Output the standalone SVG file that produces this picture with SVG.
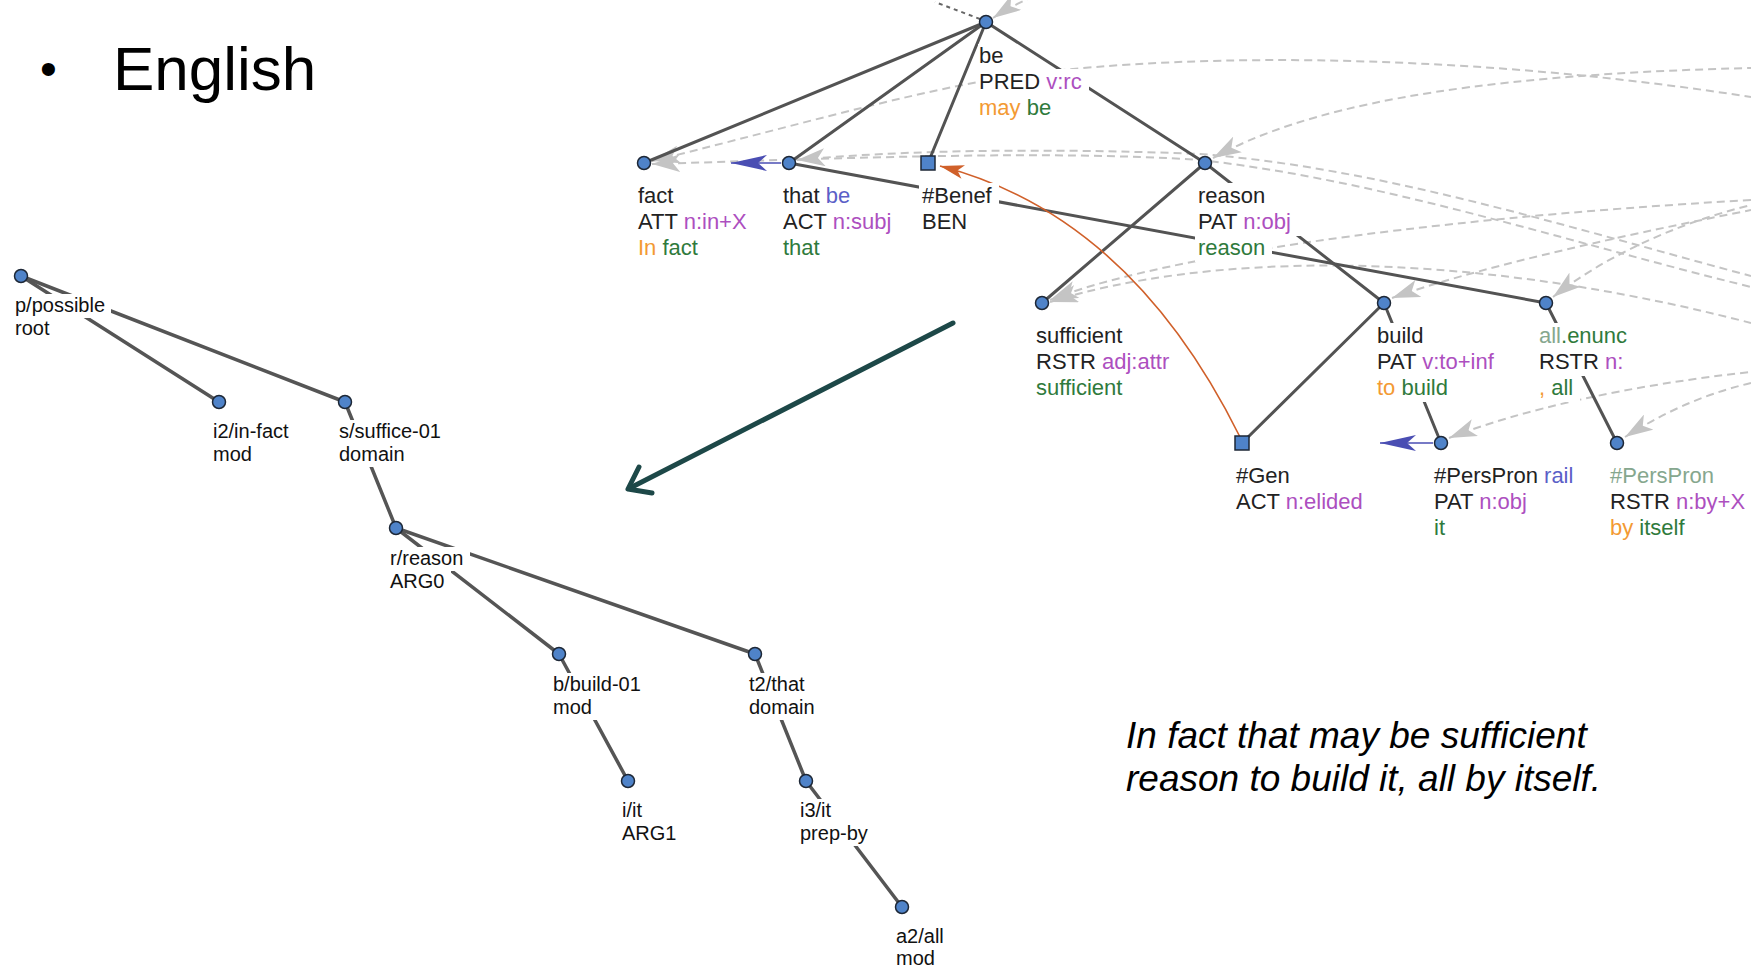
<svg xmlns="http://www.w3.org/2000/svg" width="1751" height="969" viewBox="0 0 1751 969">
  <defs>
    <style>
      .edge { stroke: #535353; stroke-width: 3; fill: none; stroke-linecap: round; }
      .amr-edge { stroke: #555; stroke-width: 3.5; fill: none; stroke-linecap: round; }
      .coref { stroke: #c4c4c4; stroke-width: 2; fill: none; stroke-dasharray: 8 5; marker-start: url(#arr-gray); }
      .node { fill: #4f83c9; stroke: #1d2736; stroke-width: 1.5; }
      .bg { fill: #fff; }
      .lbl { font-family: "Liberation Sans", Arial, Helvetica, sans-serif; font-size: 22px; fill: #222; }
      .amr-lbl { font-family: "Liberation Sans", Arial, Helvetica, sans-serif; font-size: 20px; fill: #111; }
      .pur { fill: #ad4fbf; }
      .grn { fill: #2f7a3c; }
      .org { fill: #f39a33; }
      .blu { fill: #5b5fc7; }
      .mut { fill: #86a78e; }
      .title { font-family: "Liberation Sans", Arial, Helvetica, sans-serif; fill: #000; }
    </style>
    <!-- light gray coreference arrowhead: tip at the node, body along the path -->
    <marker id="arr-gray" markerUnits="userSpaceOnUse" viewBox="0 0 28 18" refX="0" refY="9" markerWidth="28" markerHeight="18" orient="auto">
      <path d="M0,9 L28,0 L21,9 L28,18 Z" fill="#c4c4c4"/>
    </marker>
    <marker id="arr-blue" markerUnits="userSpaceOnUse" viewBox="0 0 36 16" refX="36" refY="8" markerWidth="36" markerHeight="16" orient="auto">
      <path d="M0,0 L36,8 L0,16 L9,8 Z" fill="#4a4eb3"/>
    </marker>
    <marker id="arr-orange" markerUnits="userSpaceOnUse" viewBox="0 0 24 14" refX="24" refY="7" markerWidth="24" markerHeight="14" orient="auto">
      <path d="M0,0 L24,7 L0,14 L6,7 Z" fill="#d0602a"/>
    </marker>
  </defs>

  <rect width="1751" height="969" fill="#fff"/>

  <!-- heading -->
  <text class="title" x="40" y="85" font-size="48">•</text>
  <text class="title" x="113" y="90" font-size="62">English</text>

  <!-- sentence -->
  <text class="title" font-size="37" font-style="italic">
    <tspan x="1126" y="748">In fact that may be sufficient</tspan>
    <tspan x="1126" y="791">reason to build it, all by itself.</tspan>
  </text>

  <!-- ===================== connectors ===================== -->
  <g id="connectors">
    <!-- coreference / alignment curves (gray, dashed) -->
    <path class="coref" d="M652,161 C760,135 900,95 990,80 C1150,52 1450,50 1751,97"/>
    <path class="coref" d="M652,164 C850,158 1050,150 1200,160 C1380,180 1560,240 1751,287"/>
    <path class="coref" d="M797,160 C900,150 1050,148 1200,154 C1380,168 1560,225 1751,276"/>
    <path class="coref" d="M1213,158 C1300,110 1450,75 1751,68"/>
    <path class="coref" d="M1050,300 C1150,260 1400,220 1751,200"/>
    <path class="coref" d="M1050,302 C1200,255 1450,245 1751,323"/>
    <path class="coref" d="M1392,298 C1470,270 1600,240 1751,210"/>
    <path class="coref" d="M1553,297 C1600,260 1670,225 1751,205"/>
    <path class="coref" d="M1449,438 C1520,410 1630,385 1751,372"/>
    <path class="coref" d="M1625,437 C1660,415 1700,395 1751,383"/>
    <path class="coref" d="M993,18 C1005,10 1017,4 1032,-3"/>
    <!-- parent link leaving the top edge -->
    <path d="M980,19 L935,2" stroke="#666" stroke-width="2" stroke-dasharray="4 4" fill="none"/>

    <!-- tectogrammatical tree edges -->
    <line class="edge" x1="986" y1="22" x2="644" y2="163"/>
    <line class="edge" x1="986" y1="22" x2="789" y2="163"/>
    <line class="edge" x1="986" y1="22" x2="928" y2="163"/>
    <line class="edge" x1="986" y1="22" x2="1205" y2="163"/>
    <line class="edge" x1="789" y1="163" x2="1546" y2="303"/>
    <line class="edge" x1="1205" y1="163" x2="1042" y2="303"/>
    <line class="edge" x1="1205" y1="163" x2="1384" y2="303"/>
    <line class="edge" x1="1384" y1="303" x2="1242" y2="443"/>
    <line class="edge" x1="1384" y1="303" x2="1441" y2="443"/>
    <line class="edge" x1="1546" y1="303" x2="1617" y2="443"/>

    <!-- grammatical coreference and rail links -->
    <path d="M1240,437 Q1130,215 940,166" stroke="#d0602a" stroke-width="1.6" fill="none" marker-end="url(#arr-orange)"/>
    <line x1="781" y1="163" x2="731" y2="163" stroke="#4a4eb3" stroke-width="1.6" marker-end="url(#arr-blue)"/>
    <line x1="1433" y1="443" x2="1380" y2="443" stroke="#4a4eb3" stroke-width="1.6" marker-end="url(#arr-blue)"/>

    <!-- AMR tree edges -->
    <line class="amr-edge" x1="21" y1="276" x2="219" y2="402"/>
    <line class="amr-edge" x1="21" y1="276" x2="345" y2="402"/>
    <line class="amr-edge" x1="345" y1="402" x2="396" y2="528"/>
    <line class="amr-edge" x1="396" y1="528" x2="559" y2="654"/>
    <line class="amr-edge" x1="396" y1="528" x2="755" y2="654"/>
    <line class="amr-edge" x1="559" y1="654" x2="628" y2="781"/>
    <line class="amr-edge" x1="755" y1="654" x2="806" y2="781"/>
    <line class="amr-edge" x1="806" y1="781" x2="902" y2="907"/>

    <!-- conversion arrow -->
    <g stroke="#1d4848" stroke-width="5" fill="none" stroke-linecap="round" stroke-linejoin="round">
      <line x1="953" y1="323" x2="630" y2="488"/>
      <polyline points="639,467 628,489 652,493"/>
    </g>
  </g>

  <!-- ===================== tectogrammatical nodes ===================== -->
  <g id="t-be">
    <rect class="bg" x="978" y="44" width="32" height="27"/>
    <rect class="bg" x="976" y="69" width="113" height="27"/>
    <rect class="bg" x="976" y="95" width="82" height="27"/>
    <text class="lbl"><tspan x="979" y="63">be</tspan><tspan x="979" y="89">PRED <tspan class="pur">v:rc</tspan></tspan><tspan x="979" y="115"><tspan class="org">may</tspan><tspan class="grn"> be</tspan></tspan></text>
    <circle class="node" cx="986" cy="22" r="6.5"/>
  </g>
  <g id="t-fact">
    <rect class="bg" x="635" y="183" width="46" height="27"/>
    <rect class="bg" x="635" y="209" width="121" height="27"/>
    <rect class="bg" x="635" y="235" width="70" height="27"/>
    <text class="lbl"><tspan x="638" y="203">fact</tspan><tspan x="638" y="229">ATT <tspan class="pur">n:in+X</tspan></tspan><tspan x="638" y="255"><tspan class="org">In</tspan><tspan class="grn"> fact</tspan></tspan></text>
    <circle class="node" cx="644" cy="163" r="6.5"/>
  </g>
  <g id="t-that">
    <rect class="bg" x="780" y="183" width="77" height="27"/>
    <rect class="bg" x="780" y="209" width="119" height="27"/>
    <rect class="bg" x="780" y="235" width="47" height="27"/>
    <text class="lbl"><tspan x="783" y="203">that <tspan class="blu">be</tspan></tspan><tspan x="783" y="229">ACT <tspan class="pur">n:subj</tspan></tspan><tspan x="783" y="255" class="grn">that</tspan></text>
    <circle class="node" cx="789" cy="163" r="6.5"/>
  </g>
  <g id="t-benef">
    <rect class="bg" x="919" y="183" width="80" height="27"/>
    <rect class="bg" x="919" y="209" width="55" height="27"/>
    <text class="lbl"><tspan x="922" y="203">#Benef</tspan><tspan x="922" y="229">BEN</tspan></text>
    <rect class="node" x="921" y="156" width="14" height="14"/>
  </g>
  <g id="t-reason">
    <rect class="bg" x="1195" y="183" width="77" height="27"/>
    <rect class="bg" x="1195" y="209" width="107" height="27"/>
    <rect class="bg" x="1195" y="235" width="77" height="27"/>
    <text class="lbl"><tspan x="1198" y="203">reason</tspan><tspan x="1198" y="229">PAT <tspan class="pur">n:obj</tspan></tspan><tspan x="1198" y="255" class="grn">reason</tspan></text>
    <circle class="node" cx="1205" cy="163" r="6.5"/>
  </g>
  <g id="t-sufficient">
    <rect class="bg" x="1033" y="323" width="97" height="27"/>
    <rect class="bg" x="1033" y="349" width="143" height="27"/>
    <rect class="bg" x="1033" y="375" width="97" height="27"/>
    <text class="lbl"><tspan x="1036" y="343">sufficient</tspan><tspan x="1036" y="369">RSTR <tspan class="pur">adj:attr</tspan></tspan><tspan x="1036" y="395" class="grn">sufficient</tspan></text>
    <circle class="node" cx="1042" cy="303" r="6.5"/>
  </g>
  <g id="t-build">
    <rect class="bg" x="1374" y="323" width="57" height="27"/>
    <rect class="bg" x="1374" y="349" width="131" height="27"/>
    <rect class="bg" x="1374" y="375" width="81" height="27"/>
    <text class="lbl"><tspan x="1377" y="343">build</tspan><tspan x="1377" y="369">PAT <tspan class="pur">v:to+inf</tspan></tspan><tspan x="1377" y="395"><tspan class="org">to</tspan><tspan class="grn"> build</tspan></tspan></text>
    <circle class="node" cx="1384" cy="303" r="6.5"/>
  </g>
  <g id="t-all">
    <rect class="bg" x="1536" y="323" width="98" height="27"/>
    <rect class="bg" x="1536" y="349" width="94" height="27"/>
    <rect class="bg" x="1536" y="375" width="44" height="27"/>
    <text class="lbl"><tspan x="1539" y="343"><tspan class="mut">all</tspan><tspan class="grn">.enunc</tspan></tspan><tspan x="1539" y="369">RSTR <tspan class="pur">n:</tspan></tspan><tspan x="1539" y="395"><tspan class="org">,</tspan><tspan class="grn"> all</tspan></tspan></text>
    <circle class="node" cx="1546" cy="303" r="6.5"/>
  </g>
  <g id="t-gen">
    <rect class="bg" x="1233" y="463" width="64" height="27"/>
    <rect class="bg" x="1233" y="489" width="137" height="27"/>
    <text class="lbl"><tspan x="1236" y="483">#Gen</tspan><tspan x="1236" y="509">ACT <tspan class="pur">n:elided</tspan></tspan></text>
    <rect class="node" x="1235" y="436" width="14" height="14"/>
  </g>
  <g id="t-perspron-rail">
    <rect class="bg" x="1431" y="463" width="149" height="27"/>
    <rect class="bg" x="1431" y="489" width="107" height="27"/>
    <rect class="bg" x="1431" y="515" width="21" height="27"/>
    <text class="lbl"><tspan x="1434" y="483">#PersPron <tspan class="blu">rail</tspan></tspan><tspan x="1434" y="509">PAT <tspan class="pur">n:obj</tspan></tspan><tspan x="1434" y="535" class="grn">it</tspan></text>
    <circle class="node" cx="1441" cy="443" r="6.5"/>
  </g>
  <g id="t-perspron-rstr">
    <rect class="bg" x="1607" y="463" width="114" height="27"/>
    <rect class="bg" x="1607" y="489" width="144" height="27"/>
    <rect class="bg" x="1607" y="515" width="85" height="27"/>
    <text class="lbl"><tspan x="1610" y="483" class="mut">#PersPron</tspan><tspan x="1610" y="509">RSTR <tspan class="pur">n:by+X</tspan></tspan><tspan x="1610" y="535"><tspan class="org">by</tspan><tspan class="grn"> itself</tspan></tspan></text>
    <circle class="node" cx="1617" cy="443" r="6.5"/>
  </g>

  <!-- ===================== AMR nodes ===================== -->
  <g id="a-possible">
    <rect class="bg" x="12" y="294" width="99" height="24"/>
    <rect class="bg" x="12" y="317" width="44" height="24"/>
    <text class="amr-lbl"><tspan x="15" y="312">p/possible</tspan><tspan x="15" y="335">root</tspan></text>
    <circle class="node" cx="21" cy="276" r="6.5"/>
  </g>
  <g id="a-in-fact">
    <rect class="bg" x="210" y="420" width="85" height="24"/>
    <rect class="bg" x="210" y="443" width="48" height="24"/>
    <text class="amr-lbl"><tspan x="213" y="438">i2/in-fact</tspan><tspan x="213" y="461">mod</tspan></text>
    <circle class="node" cx="219" cy="402" r="6.5"/>
  </g>
  <g id="a-suffice">
    <rect class="bg" x="336" y="420" width="112" height="24"/>
    <rect class="bg" x="336" y="443" width="75" height="24"/>
    <text class="amr-lbl"><tspan x="339" y="438">s/suffice-01</tspan><tspan x="339" y="461">domain</tspan></text>
    <circle class="node" cx="345" cy="402" r="6.5"/>
  </g>
  <g id="a-reason">
    <rect class="bg" x="387" y="547" width="83" height="24"/>
    <rect class="bg" x="387" y="570" width="64" height="24"/>
    <text class="amr-lbl"><tspan x="390" y="565">r/reason</tspan><tspan x="390" y="588">ARG0</tspan></text>
    <circle class="node" cx="396" cy="528" r="6.5"/>
  </g>
  <g id="a-build">
    <rect class="bg" x="550" y="673" width="97" height="24"/>
    <rect class="bg" x="550" y="696" width="48" height="24"/>
    <text class="amr-lbl"><tspan x="553" y="691">b/build-01</tspan><tspan x="553" y="714">mod</tspan></text>
    <circle class="node" cx="559" cy="654" r="6.5"/>
  </g>
  <g id="a-that">
    <rect class="bg" x="746" y="673" width="65" height="24"/>
    <rect class="bg" x="746" y="696" width="75" height="24"/>
    <text class="amr-lbl"><tspan x="749" y="691">t2/that</tspan><tspan x="749" y="714">domain</tspan></text>
    <circle class="node" cx="755" cy="654" r="6.5"/>
  </g>
  <g id="a-it">
    <rect class="bg" x="619" y="799" width="29" height="24"/>
    <rect class="bg" x="619" y="822" width="64" height="24"/>
    <text class="amr-lbl"><tspan x="622" y="817">i/it</tspan><tspan x="622" y="840">ARG1</tspan></text>
    <circle class="node" cx="628" cy="781" r="6.5"/>
  </g>
  <g id="a-it3">
    <rect class="bg" x="797" y="799" width="50" height="24"/>
    <rect class="bg" x="797" y="822" width="77" height="24"/>
    <text class="amr-lbl"><tspan x="800" y="817">i3/it</tspan><tspan x="800" y="840">prep-by</tspan></text>
    <circle class="node" cx="806" cy="781" r="6.5"/>
  </g>
  <g id="a-all">
    <rect class="bg" x="893" y="925" width="57" height="24"/>
    <rect class="bg" x="893" y="947" width="48" height="22"/>
    <text class="amr-lbl"><tspan x="896" y="943">a2/all</tspan><tspan x="896" y="965">mod</tspan></text>
    <circle class="node" cx="902" cy="907" r="6.5"/>
  </g>
</svg>
